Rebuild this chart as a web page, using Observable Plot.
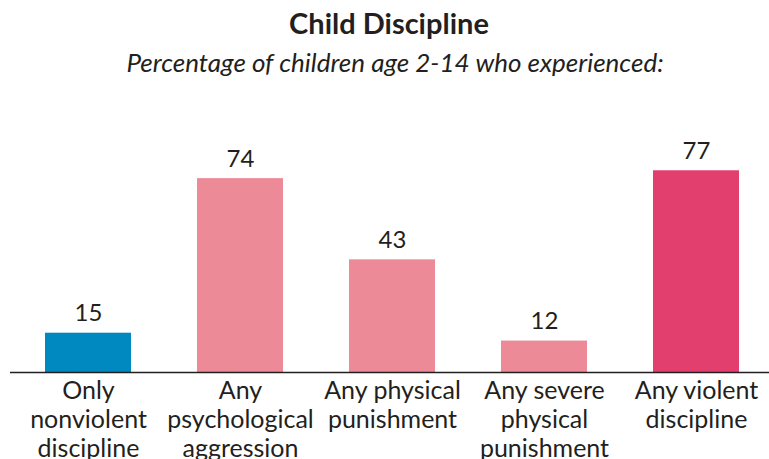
<!DOCTYPE html>
<html>
<head>
<meta charset="utf-8">
<script src="https://cdn.jsdelivr.net/npm/d3@7"></script>
<script src="https://cdn.jsdelivr.net/npm/@observablehq/plot@0.6"></script>
<style>
  html, body { margin: 0; padding: 0; background: #fff; }
  body { width: 769px; height: 459px; overflow: hidden; font-family: Lato, "Open Sans", sans-serif; color: #231f20; }
  #title { position: absolute; left: 0; top: 6px; width: 778px; text-align: center; font-weight: bold; font-size: 29px; line-height: 34px; }
  #subtitle { position: absolute; left: 0; top: 45px; width: 790px; text-align: center; font-style: italic; font-size: 26px; line-height: 34px; }
  #chart { position: absolute; left: 0; top: 90px; }
</style>
</head>
<body>
<div id="title">Child Discipline</div>
<div id="subtitle">Percentage of children age 2-14 who experienced:</div>
<div id="chart"></div>
<script>
const categories = [
  "Only nonviolent discipline",
  "Any psychological aggression",
  "Any physical punishment",
  "Any severe physical punishment",
  "Any violent discipline"
];
const labels = [
  "Only\nnonviolent\ndiscipline",
  "Any\npsychological\naggression",
  "Any physical\npunishment",
  "Any severe\nphysical\npunishment",
  "Any violent\ndiscipline"
];
const values = [15, 74, 43, 12, 77];
const groups = ["nonviolent", "component", "component", "component", "violent"];

const data = categories.map((c, i) => ({category: c, label: labels[i], value: values[i], group: groups[i]}));

const chart = Plot.plot({
  width: 769,
  height: 369,
  marginLeft: 15,
  marginRight: 0,
  marginTop: 20,
  marginBottom: 87,
  style: {fontFamily: "Lato, 'Open Sans', sans-serif", color: "#231f20", background: "transparent"},
  x: {domain: categories, paddingInner: 0.434, paddingOuter: 0.197, axis: null},
  y: {domain: [0, 100], axis: null},
  color: {domain: ["nonviolent", "component", "violent"], range: ["#0088c1", "#ec8b97", "#e33f6e"]},
  marks: [
    Plot.barY(data, {x: "category", y: "value", fill: "group"}),
    Plot.ruleY([0], {stroke: "#231f20", strokeWidth: 1.5, insetLeft: -5}),
    Plot.text(data, {x: "category", y: "value", text: d => String(d.value), dy: -12, lineAnchor: "bottom", fontSize: 24, fill: "#231f20"}),
    Plot.text(data, {x: "category", text: "label", frameAnchor: "bottom", lineAnchor: "top", dy: 6, lineHeight: 1.16, fontSize: 25, fill: "#231f20"})
  ]
});
document.getElementById("chart").appendChild(chart);
</script>
</body>
</html>
